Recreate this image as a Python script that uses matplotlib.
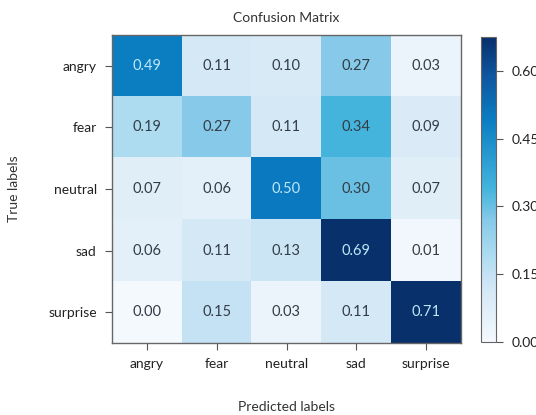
import numpy as np
import matplotlib
matplotlib.use("Agg")
import matplotlib.pyplot as plt
from matplotlib.colors import LinearSegmentedColormap

plt.rcParams['font.family'] = ['Lato', 'DejaVu Sans']

classes = ["angry", "fear", "neutral", "sad", "surprise"]
cm = np.array([
    [0.49, 0.11, 0.10, 0.27, 0.03],
    [0.19, 0.27, 0.11, 0.34, 0.09],
    [0.07, 0.06, 0.50, 0.30, 0.07],
    [0.06, 0.11, 0.13, 0.69, 0.01],
    [0.00, 0.15, 0.03, 0.11, 0.71],
])
cbar_ticks = [0.00, 0.15, 0.30, 0.45, 0.60]

# vivid blue ramp
blues = LinearSegmentedColormap.from_list("vivid_blues", [
    (0.00, "#f4f9fd"),
    (0.05, "#eaf4fb"),
    (0.16, "#d6e9f6"),
    (0.22, "#c5e2f4"),
    (0.28, "#aedcf0"),
    (0.40, "#87c9e8"),
    (0.50, "#45b5de"),
    (0.73, "#0a7dc2"),
    (0.87, "#0f57a0"),
    (1.00, "#08306b"),
])

fig = plt.figure(figsize=(5.36, 4.15), dpi=100)
W, H = 536, 415
ax = fig.add_axes([112 / W, 1 - 343 / H, 349 / W, 308 / H])
cax = fig.add_axes([481 / W, 1 - 342 / H, 15 / W, 305 / H])

im = ax.imshow(cm, cmap=blues, vmin=0, vmax=0.675, aspect="auto",
               interpolation="nearest")

thresh = 0.40
for i in range(cm.shape[0]):
    for j in range(cm.shape[1]):
        v = cm[i, j]
        ax.text(j, i, f"{v:.2f}", ha="center", va="center", fontsize=10.5,
                color="#bfe8f6" if v > thresh else "#333d47")

ax.set_xticks(range(len(classes)))
ax.set_xticklabels(classes)
ax.set_yticks(range(len(classes)))
ax.set_yticklabels(classes)
ax.tick_params(axis="both", labelsize=10, colors="#555555", labelcolor="#222222",
               length=5, pad=6)
ax.set_xlabel("Predicted labels", fontsize=10, color="#333333", labelpad=22)
ax.set_ylabel("True labels", fontsize=10, color="#333333", labelpad=20)
ax.set_title("Confusion Matrix", fontsize=10, color="#333333", pad=9)
for s in ax.spines.values():
    s.set_color("#666666")
    s.set_linewidth(1.0)

cb = fig.colorbar(im, cax=cax, ticks=cbar_ticks)
cb.ax.set_yticklabels([f"{t:.2f}" for t in cbar_ticks])
cb.ax.tick_params(labelsize=10, colors="#555555", labelcolor="#222222",
                  length=5, pad=6)
cb.outline.set_edgecolor("#666666")

fig.savefig("out.png", dpi=100)
